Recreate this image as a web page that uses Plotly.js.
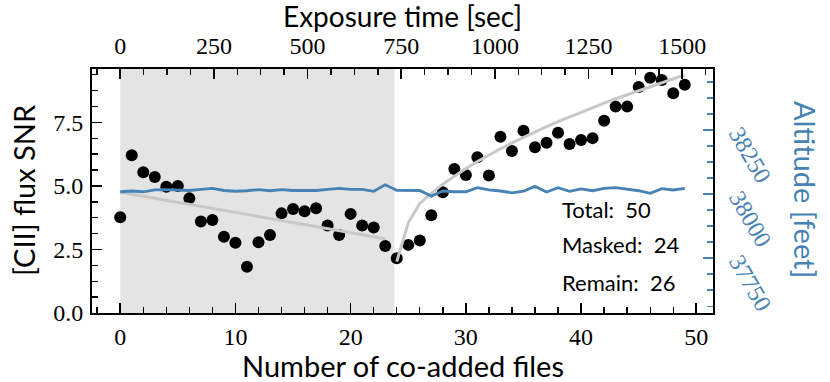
<!DOCTYPE html>
<html>
<head>
<meta charset="utf-8">
<script src="https://cdn.plot.ly/plotly-3.0.1.min.js"></script>
<style>
  html, body { margin: 0; padding: 0; background: white; }
  #chart { width: 830px; height: 382px; }
</style>
</head>
<body>
<div id="chart"></div>
<script>
/* [CII] flux SNR vs number of co-added files, with flight altitude on a twin axis. */
const fileIndex = [0, 1, 2, 3, 4, 5, 6, 7, 8, 9, 10, 11, 12, 13, 14, 15, 16, 17, 18, 19,
  20, 21, 22, 23, 24, 25, 26, 27, 28, 29, 30, 31, 32, 33, 34, 35, 36, 37, 38, 39,
  40, 41, 42, 43, 44, 45, 46, 47, 48, 49];

const snr = [3.77, 6.21, 5.54, 5.35, 4.97, 5.00, 4.51, 3.60, 3.66, 3.00,
  2.76, 1.82, 2.78, 3.07, 3.92, 4.09, 4.00, 4.12, 3.44, 3.07,
  3.90, 3.44, 3.36, 2.64, 2.15, 2.68, 2.85, 3.85, 4.75, 5.67,
  5.43, 6.13, 5.41, 6.93, 6.37, 7.17, 6.52, 6.70, 7.09, 6.65,
  6.81, 6.88, 7.56, 8.12, 8.12, 8.89, 9.26, 9.17, 8.65, 8.98];

const altitude = [38009, 38012, 38009, 38016, 38017, 38016, 38014, 38018, 38022, 38014,
  38011, 38013, 38017, 38013, 38017, 38014, 38014, 38014, 38018, 38022,
  38018, 38018, 38011, 38036, 38015, 38014, 38014, 37992, 38012, 38009,
  38009, 38025, 38016, 38012, 38005, 38011, 38030, 38008, 38025, 38011,
  38020, 38013, 38022, 38025, 38018, 38013, 38003, 38021, 38016, 38022];

// fit through the masked files (first 24)
const maskFitX = [0, 23];
const maskFitY = [4.75, 2.92];

// fit through the remaining files
const remainFitX = [24, 25, 26, 27, 28, 29, 30, 31, 32, 33, 34, 35, 36, 37,
  38, 39, 40, 41, 42, 43, 44, 45, 46, 47, 48, 49];
const remainFitY = [2.02, 3.55, 4.31, 4.71, 5.07, 5.39, 5.68, 5.96, 6.22, 6.46, 6.69, 6.91, 7.13, 7.33,
  7.53, 7.72, 7.90, 8.08, 8.26, 8.43, 8.59, 8.76, 8.91, 9.07, 9.22, 9.37];

const altitudeTicks = [37750, 38000, 38250];

const maskSpan = [0, 23.8];
const secPerFile = 30.75;
const fileRange = [-2.45, 51.45];

const totalFiles = 50;
const maskedFiles = 24;
const remainFiles = 26;

const BLUE = "#4682b4";
const serif = "Liberation Serif";
const sans = "Lato";

function axisBase() {
  return {
    showgrid: false,
    zeroline: false,
    showline: true,
    linecolor: "black",
    linewidth: 2,
    ticks: "inside",
    ticklen: 10,
    tickwidth: 1.6,
    tickcolor: "black",
    tickfont: { family: serif, size: 24, color: "black" },
    minor: { ticks: "inside", ticklen: 6, tickwidth: 1.4, tickcolor: "black" }
  };
}

function titleNote(text, x, y, angle, color, size) {
  return {
    text,
    xref: "paper",
    yref: "paper",
    x,
    y,
    xanchor: "center",
    yanchor: "middle",
    textangle: angle,
    showarrow: false,
    font: { family: sans, size: size || 29, color }
  };
}

const traces = [
  {
    type: "scatter",
    mode: "markers",
    x: fileIndex,
    y: snr,
    marker: { color: "black", size: 12 },
    xaxis: "x",
    yaxis: "y",
    hoverinfo: "skip"
  },
  {
    type: "scatter",
    mode: "lines",
    x: maskFitX,
    y: maskFitY,
    line: { color: "#c8c8c8", width: 3 },
    xaxis: "x",
    yaxis: "y"
  },
  {
    type: "scatter",
    mode: "lines",
    x: remainFitX,
    y: remainFitY,
    line: { color: "#c8c8c8", width: 3 },
    xaxis: "x",
    yaxis: "y"
  },
  {
    type: "scatter",
    mode: "lines",
    x: fileIndex,
    y: altitude,
    line: { color: BLUE, width: 2.8 },
    xaxis: "x",
    yaxis: "y2"
  },
  // invisible carrier for the top exposure-time axis
  {
    type: "scatter",
    mode: "markers",
    x: [0],
    y: [0],
    marker: { opacity: 0 },
    xaxis: "x2",
    yaxis: "y",
    hoverinfo: "skip"
  }
];

// rotated altitude labels sit below-right of their ticks, as in the original
const altitudeLabels = altitudeTicks.map(v => ({
  text: String(v),
  xref: "paper",
  yref: "y2",
  x: 1.0596,
  y: v,
  yshift: -25,
  xanchor: "center",
  yanchor: "middle",
  textangle: 60,
  showarrow: false,
  font: { family: serif, size: 24, color: BLUE }
}));

const statLabels = [
  ["Total:  " + totalFiles, 0.426],
  ["Masked:  " + maskedFiles, 0.279],
  ["Remain:  " + remainFiles, 0.123]
].map(([text, y]) => ({
  text,
  xref: "paper",
  yref: "paper",
  x: 0.754,
  y,
  xanchor: "left",
  yanchor: "middle",
  showarrow: false,
  font: { family: sans, size: 22, color: "black" }
}));

const axisTitles = [
  titleNote("Number of co-added files", 0.5, -0.217, 0, "black"),
  titleNote("Exposure time [sec]", 0.5, 1.217, 0, "black", 28),
  titleNote("[CII] flux SNR", -0.111, 0.504, -90, "black"),
  titleNote("Altitude [feet]", 1.15, 0.508, 90, BLUE)
];

const layout = {
  width: 830,
  height: 382,
  margin: { l: 92, r: 117, t: 69, b: 69 },
  paper_bgcolor: "white",
  plot_bgcolor: "white",
  showlegend: false,
  xaxis: {
    ...axisBase(),
    range: fileRange,
    dtick: 10,
    tick0: 0,
    minor: { ...axisBase().minor, dtick: 2 },
    ticklabelstandoff: 1
  },
  xaxis2: {
    ...axisBase(),
    overlaying: "x",
    side: "top",
    anchor: "y",
    range: [fileRange[0] * secPerFile, fileRange[1] * secPerFile],
    dtick: 250,
    tick0: 0,
    minor: { ...axisBase().minor, dtick: 62.5 },
    ticklabelstandoff: 3
  },
  yaxis: {
    ...axisBase(),
    range: [0, 9.6],
    dtick: 2.5,
    tick0: 0,
    tickformat: ".1f",
    minor: { ...axisBase().minor, dtick: 0.625 },
    ticklabelstandoff: 2
  },
  yaxis2: {
    ...axisBase(),
    overlaying: "y",
    side: "right",
    anchor: "x",
    range: [37536, 38488],
    dtick: 250,
    tick0: 37750,
    tickcolor: BLUE,
    showticklabels: false,
    minor: { ticks: "inside", ticklen: 6, tickwidth: 1.4, tickcolor: BLUE, dtick: 62.5 }
  },
  shapes: [
    {
      type: "rect",
      xref: "x",
      yref: "paper",
      x0: maskSpan[0],
      x1: maskSpan[1],
      y0: 0,
      y1: 1,
      fillcolor: "#e4e4e4",
      line: { width: 0 },
      layer: "below"
    }
  ],
  annotations: statLabels.concat(altitudeLabels, axisTitles)
};

Plotly.newPlot("chart", traces, layout, { displayModeBar: false, staticPlot: true });
</script>
</body>
</html>
